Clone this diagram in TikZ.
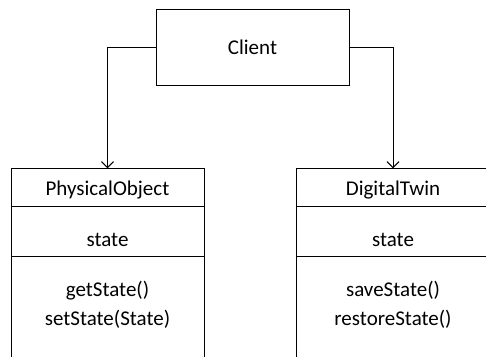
\documentclass[tikz,border=0pt]{standalone}
\usepackage{fontspec}
\setmainfont{Carlito}
\usetikzlibrary{arrows.meta}
\begin{document}
\begin{tikzpicture}[x=1pt,y=-1pt,
  box/.style={draw,line width=1pt,minimum width=193pt,inner sep=0pt,outer sep=0pt},
  lbl/.style={font=\fontsize{21}{28}\selectfont,inner sep=0pt,anchor=base},
  conn/.style={line width=1pt,-{Straight Barb[length=6pt,width=12pt]}}]
\clip (0,0) rectangle (486,356);
% client
\node[box,minimum height=76pt] (client) at (252.5,47) {};
\node[lbl] (clientT) at (252.5,54.3) {Client};
% PhysicalObject
\node[box,minimum height=38.4pt] (lname) at (107.5,187.5) {};
\node[box,minimum height=50pt] (lattr) at (107.5,231.7) {};
\node[box,minimum height=120pt] (lmeth) at (107.5,316.7) {};
\node[lbl] (lnameT) at (107.5,195) {PhysicalObject};
\node[lbl] (lattrT) at (107.5,246.7) {state};
\node[lbl] (lm1) at (107.5,296.7) {getState()};
\node[lbl] (lm2) at (107.5,325) {setState(State)};
% DigitalTwin
\node[box,minimum height=38.4pt] (rname) at (393,187.5) {};
\node[box,minimum height=50pt] (rattr) at (393,231.7) {};
\node[box,minimum height=120pt] (rmeth) at (393,316.7) {};
\node[lbl] (rnameT) at (393,195) {DigitalTwin};
\node[lbl] (rattrT) at (393,246.7) {state};
\node[lbl] (rm1) at (393,296.7) {saveState()};
\node[lbl] (rm2) at (393,325) {restoreState()};
% connectors
\draw[conn] (client.west) -| (lname.north);
\draw[conn] (client.east) -| (rname.north);
\end{tikzpicture}
\end{document}
